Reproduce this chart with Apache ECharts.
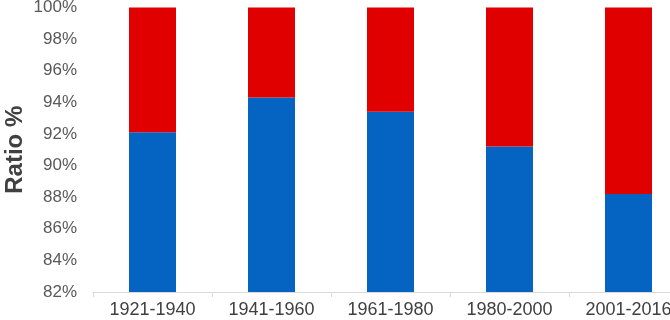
<!DOCTYPE html>
<html>
<head>
<meta charset="utf-8">
<script src="https://cdn.jsdelivr.net/npm/echarts@6/dist/echarts.min.js"></script>
<style>html,body{margin:0;padding:0;background:#fff;overflow:hidden;}#c{width:700px;height:320px;}</style>
</head>
<body>
<div id="c"></div>
<script>
var categories = ['1921-1940', '1941-1960', '1961-1980', '1980-2000', '2001-2016'];
var blueValues = [92.1, 94.3, 93.4, 91.2, 88.2];
var redValues = [7.9, 5.7, 6.6, 8.8, 11.8];
var yMin = 82, yMax = 100, yInterval = 2;

var chart = echarts.init(document.getElementById('c'), null, {renderer: 'canvas'});
chart.setOption({
  animation: false,
  grid: {left: 93, top: 7.5, width: 595, height: 284.5, containLabel: false, outerBoundsMode: 'none'},
  xAxis: {
    type: 'category',
    data: categories,
    boundaryGap: true,
    axisLine: {lineStyle: {color: '#d9d9d9', width: 1}},
    axisTick: {show: true, length: 5, lineStyle: {color: '#d9d9d9'}},
    axisLabel: {fontFamily: 'Liberation Sans, Arial', fontSize: 18, color: '#404040', margin: 9, interval: 0}
  },
  yAxis: {
    type: 'value',
    min: yMin, max: yMax, interval: yInterval,
    name: 'Ratio %',
    nameLocation: 'middle',
    nameGap: 66,
    nameMoveOverlap: false,
    nameTextStyle: {fontFamily: 'Liberation Sans, Arial', fontSize: 24, fontWeight: 'bold', color: '#404040'},
    axisLine: {show: false},
    axisTick: {show: false},
    splitLine: {show: false},
    axisLabel: {formatter: '{value}%', fontFamily: 'Liberation Sans, Arial', fontSize: 17, color: '#595959', margin: 16}
  },
  series: [
    {type: 'bar', stack: 'total', data: blueValues, barWidth: 47, itemStyle: {color: '#0563C1'}},
    {type: 'bar', stack: 'total', data: redValues, barWidth: 47, itemStyle: {color: '#E00000'}}
  ]
});
</script>
</body>
</html>
